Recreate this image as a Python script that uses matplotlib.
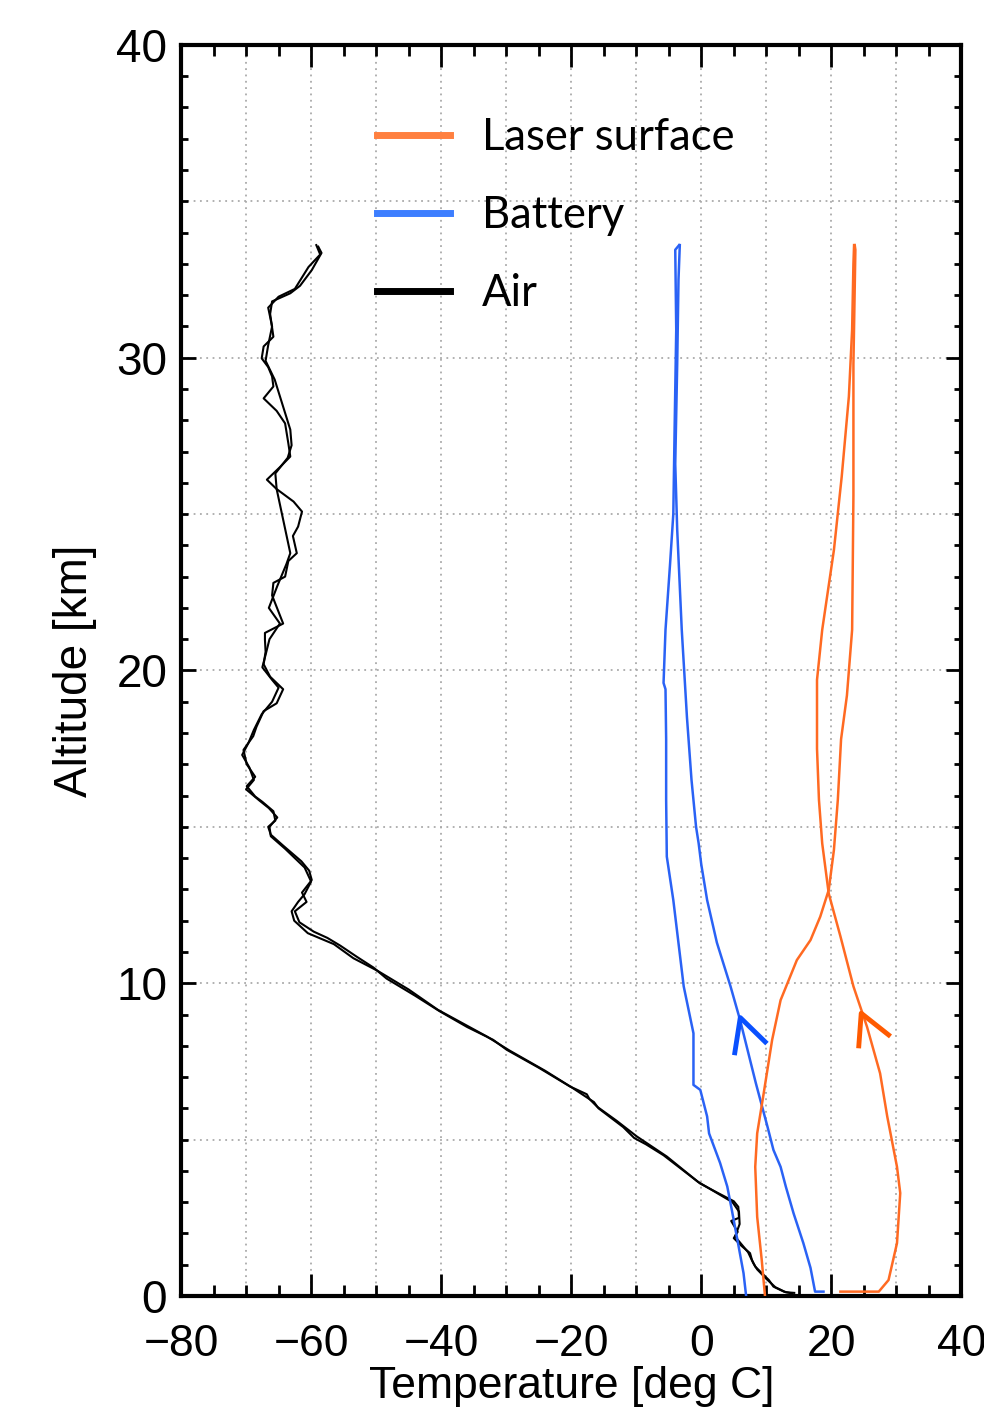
import matplotlib
matplotlib.use("Agg")
import matplotlib.pyplot as plt
from matplotlib.ticker import MultipleLocator

# air temperature, two passes (ascent / descent): (temp degC, altitude km)
air_up_t = [14.0, 12.7, 11.1, 10.4, 8.3, 7.8, 7.5, 6.2, 5.0, 5.6, 4.6, 5.8, 5.7, 5.0, 2.5, -0.2,
            -5.3, -9.9, -13.0, -16.0, -17.2, -17.6, -20.2, -25.0, -29.9, -32.0, -36.0, -40.2,
            -44.0, -48.4, -50.4, -53.0, -55.5, -57.5, -59.6, -61.8, -62.2, -62.5, -60.7, -61.4,
            -59.9, -60.3, -61.5, -64.3, -66.2, -66.6, -65.5, -65.8, -67.5, -68.6, -69.9, -68.6,
            -69.9, -70.4, -68.9, -68.4, -67.3, -65.3, -64.3, -66.3, -67.3, -67.0, -67.1, -67.1,
            -64.3, -66.0, -65.8, -64.0, -63.5, -62.2, -62.8, -62.0, -61.4, -62.7, -65.3, -66.8,
            -64.8, -63.2, -63.5, -64.0, -65.3, -67.3, -65.8, -66.0, -66.6, -67.6, -67.3, -65.8,
            -66.3, -66.0, -63.2, -61.7, -59.9, -58.4, -58.9]
air_up_h = [0.08, 0.14, 0.3, 0.51, 0.94, 1.15, 1.37, 1.6, 1.85, 2.05, 2.4, 2.5, 2.85, 3.03, 3.3,
            3.6, 4.46, 5.1, 5.6, 6.05, 6.3, 6.45, 6.7, 7.3, 7.87, 8.19, 8.6, 9.1, 9.6, 10.15,
            10.5, 10.85, 11.2, 11.45, 11.65, 11.95, 12.15, 12.3, 12.6, 12.9, 13.3, 13.6, 13.9,
            14.4, 14.75, 15.0, 15.2, 15.5, 15.8, 15.97, 16.3, 16.6, 17.0, 17.46, 17.9, 18.2,
            18.7, 18.95, 19.4, 19.8, 20.2, 20.6, 20.98, 21.2, 21.5, 22.4, 22.8, 23.0, 23.5,
            23.75, 24.3, 24.6, 25.08, 25.4, 25.8, 26.1, 26.5, 26.84, 27.26, 27.9, 28.3, 28.7,
            29.08, 29.4, 29.7, 29.98, 30.36, 30.67, 31.4, 31.8, 32.06, 32.3, 32.8, 33.35, 33.55]

air_down_t = [-59.2, -58.6, -60.4, -62.5, -65.0, -66.6, -66.0, -66.6, -67.0, -65.6, -63.2, -63.0,
              -63.6, -65.5, -65.3, -63.2, -63.8, -64.6, -65.2, -66.5, -64.8, -66.4, -67.0, -67.5,
              -66.0, -65.0, -66.0, -67.6, -68.8, -69.6, -70.6, -69.5, -68.8, -70.0, -68.0, -66.5,
              -65.2, -66.4, -66.2, -64.0, -61.0, -60.0, -61.0, -62.0, -63.0, -62.6, -60.5, -56.5,
              -53.5, -49.8, -45.0, -40.5, -33.0, -29.5, -24.0, -20.0, -16.5, -15.8, -12.0, -10.3,
              -8.5, -5.8, -0.5, 4.8, 5.8, 5.9, 5.2, 7.2, 8.0, 8.6, 10.0, 11.4, 13.0, 14.3]
air_down_h = [33.6, 33.3, 32.9, 32.2, 31.95, 31.6, 31.0, 30.4, 29.9, 29.3, 27.7, 27.2, 26.8, 26.3,
              25.8, 23.75, 23.4, 23.0, 22.7, 22.0, 21.5, 21.0, 20.5, 20.1, 19.7, 19.45, 19.0,
              18.6, 18.1, 17.7, 17.3, 16.9, 16.5, 16.2, 15.85, 15.6, 15.3, 15.0, 14.7, 14.3,
              13.7, 13.25, 12.85, 12.6, 12.3, 12.0, 11.6, 11.25, 10.8, 10.4, 9.8, 9.15, 8.3,
              7.85, 7.2, 6.68, 6.2, 6.0, 5.4, 5.05, 4.85, 4.5, 3.65, 3.0, 2.7, 2.3, 1.9, 1.4,
              1.05, 0.85, 0.55, 0.28, 0.12, 0.1]

# battery temperature
bat_up_t = [18.8, 17.5, 16.8, 15.7, 14.2, 13.0, 12.2, 11.1, 10.2, 9.3, 8.4, 7.5, 6.0, 4.5, 2.4,
            0.9, 0.0, -0.4, -0.8, -1.5, -2.2, -3.0, -3.7, -4.0, -3.7, -3.5, -3.3]
bat_up_h = [0.14, 0.14, 0.9, 1.69, 2.64, 3.5, 4.13, 4.67, 5.4, 6.1, 6.8, 7.55, 8.8, 9.9, 11.3,
            12.66, 13.8, 14.47, 15.0, 16.5, 18.5, 21.3, 24.5, 26.6, 29.8, 32.5, 33.6]
bat_down_t = [-3.4, -4.0, -3.85, -4.1, -4.3, -4.8, -5.5, -5.8, -5.5, -5.4, -5.4, -5.3, -4.3,
              -2.7, -1.2, -1.2, -0.15, 0.9, 1.2, 2.9, 4.0, 4.7, 5.75, 6.5, 6.9]
bat_down_h = [33.6, 33.45, 30.9, 27.7, 25.0, 23.4, 21.3, 19.6, 19.4, 17.8, 15.86, 14.05, 12.66,
              9.9, 8.4, 6.75, 6.59, 5.74, 5.2, 4.25, 3.5, 2.75, 1.58, 0.73, 0.0]

# laser surface temperature
las_up_t = [21.4, 27.3, 28.8, 30.1, 30.6, 30.1, 28.6, 27.5, 25.5, 23.4, 21.4, 19.6, 18.6, 18.1,
            17.8, 17.8, 18.6, 20.4, 21.6, 22.7, 23.2, 23.4, 23.5]
las_up_h = [0.14, 0.14, 0.51, 1.69, 3.29, 4.13, 5.74, 7.12, 8.6, 9.9, 11.5, 12.87, 14.47, 15.86,
            17.5, 19.7, 21.3, 23.85, 26.2, 28.76, 30.9, 33.0, 33.6]
las_down_t = [23.6, 23.7, 23.4, 23.4, 23.3, 23.2, 22.4, 21.5, 21.0, 20.4, 19.6, 18.3, 16.8, 14.7,
              12.2, 10.9, 9.6, 8.6, 8.3, 8.6, 9.3, 9.8]
las_down_h = [33.6, 33.45, 29.8, 25.6, 23.4, 21.3, 19.2, 17.8, 15.86, 14.26, 12.98, 12.13, 11.38,
              10.74, 9.46, 8.19, 6.48, 5.2, 4.13, 2.53, 1.15, 0.0]

# direction arrows (arm, tip, arm)
bat_arrow_t = [5.1, 6.0, 10.1]
bat_arrow_h = [7.7, 8.9, 8.07]
las_arrow_t = [24.2, 24.6, 29.1]
las_arrow_h = [7.92, 9.04, 8.3]

labels = ["Laser surface", "Battery", "Air"]

ORANGE = "#ff6a22"
BLUE = "#2a62f5"

plt.rcParams["font.family"] = ["Liberation Sans", "DejaVu Sans"]

fig = plt.figure(figsize=(9.84, 14.13), dpi=100)
ax = fig.add_axes([0.184, 0.0828, 0.793, 0.8854])

ax.plot(air_up_t, air_up_h, color="black", lw=1.5, zorder=3)
ax.plot(air_down_t, air_down_h, color="black", lw=1.5, zorder=3)
ax.plot(bat_up_t, bat_up_h, color=BLUE, lw=1.8, zorder=3)
ax.plot(bat_down_t, bat_down_h, color=BLUE, lw=1.8, zorder=3)
ax.plot(las_up_t, las_up_h, color=ORANGE, lw=1.8, zorder=3)
ax.plot(las_down_t, las_down_h, color=ORANGE, lw=1.8, zorder=3)
ax.plot(bat_arrow_t, bat_arrow_h, color="#0a50ff", lw=3.5, solid_capstyle="butt", zorder=4)
ax.plot(las_arrow_t, las_arrow_h, color="#ff5a00", lw=3.5, solid_capstyle="butt", zorder=4)

ax.set_xlim(-80, 40)
ax.set_ylim(0, 40)
ax.xaxis.set_major_locator(MultipleLocator(20))
ax.xaxis.set_minor_locator(MultipleLocator(5))
ax.yaxis.set_major_locator(MultipleLocator(10))
ax.yaxis.set_minor_locator(MultipleLocator(1))

# dotted grid: every 10 deg and every 5 km
for t in range(-70, 40, 10):
    ax.axvline(t, color="#aaaaaa", lw=1.3, ls=(0, (1, 2.5)), zorder=1)
for h in range(5, 40, 5):
    ax.axhline(h, color="#aaaaaa", lw=1.3, ls=(0, (1, 2.5)), zorder=1)

ax.tick_params(axis="both", which="both", direction="in", top=True, right=True, width=2)
ax.tick_params(axis="x", which="major", length=16, pad=20, labelsize=32)
ax.tick_params(axis="x", which="minor", length=8)
ax.tick_params(axis="y", which="major", length=11, pad=10, labelsize=33)
ax.tick_params(axis="y", which="minor", length=5)
for s in ax.spines.values():
    s.set_linewidth(3)

ax.set_xlabel("Temperature [deg C]", fontsize=32, labelpad=1)
ax.set_ylabel("Altitude [km]", fontsize=33, labelpad=14)

handles = [plt.Line2D([], [], color="#ff8040", lw=5),
           plt.Line2D([], [], color="#3d7eff", lw=5),
           plt.Line2D([], [], color="black", lw=5)]
ax.legend(handles, labels, loc="upper left", bbox_to_anchor=(0.251, 0.9424),
          frameon=False, prop={"family": "Lato", "size": 31.4}, handlelength=1.67,
          handletextpad=0.73, labelspacing=0.85, borderpad=0, borderaxespad=0)

fig.savefig("out.png", dpi=100)
